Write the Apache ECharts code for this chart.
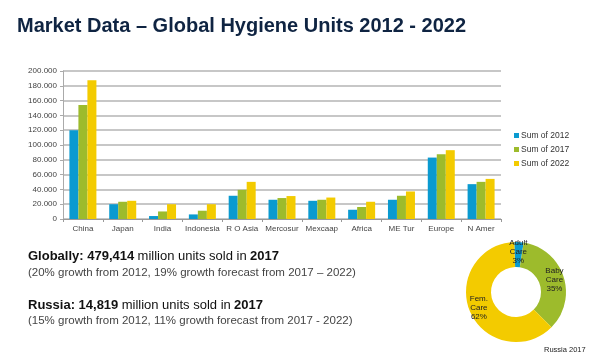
<!DOCTYPE html>
<html><head><meta charset="utf-8">
<script src="https://cdn.jsdelivr.net/npm/echarts@6/dist/echarts.min.js"></script>
<style>html,body{margin:0;padding:0;background:#fff}#c{width:605px;height:363px}</style>
</head><body><div id="c"></div>
<script>
var categories = ['China','Japan','India','Indonesia','R O Asia','Mercosur','Mexcaap','Africa','ME Tur','Europe','N Amer'];
var sum2012 = [120000,20000,4000,6200,31400,26000,24600,12500,26000,83000,47100];
var sum2017 = [154000,23300,10200,11200,39400,28300,26000,16200,31400,87500,50200];
var sum2022 = [187500,24600,20000,20000,50200,31000,29000,23300,37200,93000,54200];
var seriesNames = ['Sum of 2012','Sum of 2017','Sum of 2022'];
var donutNames = ['Adult\nCare','Baby\nCare','Fem.\nCare'];
var donutValues = [3,35,62];
var colors = ['#0A9AD0','#9DBB2C','#F3CB00'];
var font = 'Liberation Sans, Arial, sans-serif';

function fmt(v){ return String(v).replace(/\B(?=(\d{3})+(?!\d))/g,'.'); }

var chart = echarts.init(document.getElementById('c'), null, {renderer:'canvas'});
chart.setOption({
  animation:false,
  textStyle:{fontFamily:font},
  color: colors,
  grid:{left:63,right:104,top:71,bottom:144,containLabel:false},
  legend:{
    orient:'vertical', left:514, top:131, padding:0, itemWidth:5, itemHeight:5, itemGap:5,
    icon:'rect', textStyle:{fontSize:8.5,color:'#333',fontFamily:font,padding:[0,0,0,-3]},
    data: seriesNames
  },
  xAxis:{
    type:'category', data:categories,
    axisLine:{lineStyle:{color:'#999',width:1}},
    axisTick:{show:true,length:3,lineStyle:{color:'#999'}},
    axisLabel:{fontSize:8,color:'#444',margin:6,interval:0}
  },
  yAxis:{
    type:'value', min:0, max:200000, interval:20000,
    axisLine:{show:true,lineStyle:{color:'#aaa',width:1}},
    axisTick:{show:true,length:3,lineStyle:{color:'#aaa'}},
    splitLine:{lineStyle:{color:'#b4b4b4',width:1.5}},
    axisLabel:{fontSize:8,color:'#444',margin:6,formatter:fmt}
  },
  series:[
    {name:seriesNames[0],type:'bar',data:sum2012,barWidth:9,barGap:'0%',itemStyle:{color:colors[0]}},
    {name:seriesNames[1],type:'bar',data:sum2017,barWidth:9,barGap:'0%',itemStyle:{color:colors[1]}},
    {name:seriesNames[2],type:'bar',data:sum2022,barWidth:9,barGap:'0%',itemStyle:{color:colors[2]}},
    {
      type:'pie', center:[516,292], radius:[25,50], startAngle:92, clockwise:true,
      label:{position:'inside',fontSize:8,color:'#222',lineHeight:9,
        formatter:function(p){return p.name+'\n'+p.value+'%';}},
      labelLine:{show:false},
      data: donutNames.map(function(n,i){return {name:n,value:donutValues[i],itemStyle:{color:colors[i]}};}),
      emphasis:{disabled:true}
    }
  ],
  graphic:[
    {type:'text',left:17,top:16,style:{text:'Market Data – Global Hygiene Units 2012 - 2022',fontSize:20,fontWeight:'bold',fill:'#0F2442',fontFamily:font}},
    {type:'text',left:28,top:250,style:{
      text:'{b|Globally: 479,414} {n|million units sold in} {b|2017}',
      rich:{b:{fontSize:13,fontWeight:'bold',fill:'#111',fontFamily:font},n:{fontSize:13,fill:'#111',fontFamily:font}}}},
    {type:'text',left:28,top:267,style:{text:'(20% growth from 2012, 19% growth forecast from 2017 – 2022)',fontSize:11.5,fill:'#444',fontFamily:font}},
    {type:'text',left:28,top:299,style:{
      text:'{b|Russia: 14,819} {n|million units sold in} {b|2017}',
      rich:{b:{fontSize:13,fontWeight:'bold',fill:'#111',fontFamily:font},n:{fontSize:13,fill:'#111',fontFamily:font}}}},
    {type:'text',left:28,top:315,style:{text:'(15% growth from 2012, 11% growth forecast from 2017 - 2022)',fontSize:11.5,fill:'#444',fontFamily:font}},
    {type:'text',left:544,top:346,style:{text:'Russia 2017',fontSize:7.5,fill:'#222',fontFamily:font}}
  ]
});
</script></body></html>
